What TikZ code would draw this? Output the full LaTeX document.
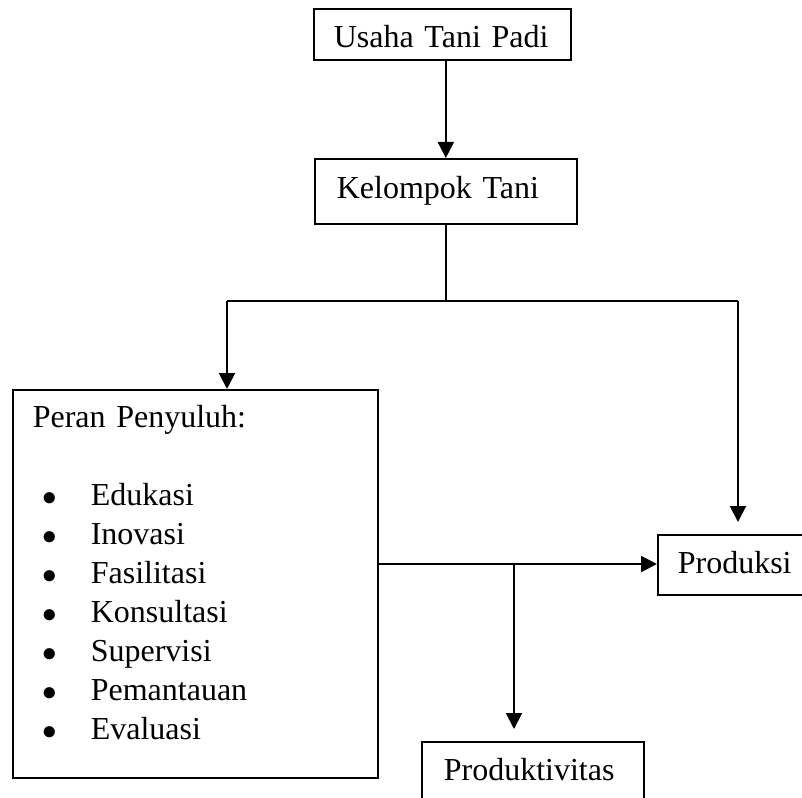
\documentclass[tikz,border=0pt]{standalone}
\usepackage{fontspec}
\setmainfont{Liberation Serif}
\usetikzlibrary{arrows.meta}

\tikzset{
  kotak/.style={draw, line width=1.2pt, anchor=north west, align=left, inner ysep=0pt,
    font=\fontsize{22.76pt}{27.74pt}\selectfont},
  garis/.style={line width=1.4pt},
  panah/.style={garis, -{Triangle[width=0.4cm,length=0.4cm]}}
}
\newcommand{\butir}[1]{\hspace*{0.25cm}\makebox[1.2cm][l]{$\bullet$}#1}

\begin{document}
\begin{tikzpicture}
		\useasboundingbox (0,0) rectangle (20.05,-19.95);
		\clip (0,0) rectangle (20.05,-19.95);

		% Boxes
		\node[kotak, inner xsep=0.5cm, text width=5.425cm, text height=0.975cm, text depth=0.3cm]
			(usaha) at (7.825,-0.2) {\mbox{Usaha Tani Padi}};
		\node[kotak, inner xsep=0.55cm, text width=5.45cm, text height=1.0cm, text depth=0.625cm]
			(kelompok) at (7.85,-3.95) {\mbox{Kelompok Tani}};
		\node[kotak, inner xsep=0.5cm, text width=8.125cm, text height=0.95cm, text depth=8.75cm]
			(peran) at (0.3,-9.725) {Peran Penyuluh:\\[27.74pt]
			\butir{Edukasi}\\
			\butir{Inovasi}\\
			\butir{Fasilitasi}\\
			\butir{Konsultasi}\\
			\butir{Supervisi}\\
			\butir{Pemantauan}\\
			\butir{Evaluasi}};
		\node[kotak, inner xsep=0.5cm, text width=3.0cm, text height=0.975cm, text depth=0.525cm]
			(produksi) at (16.425,-13.35) {\mbox{Produksi}};
		\node[kotak, inner xsep=0.55cm, text width=4.45cm, text height=0.975cm, text depth=0.75cm]
			(produktivitas) at (10.525,-18.525) {\mbox{Produktivitas}};

		% Split points
		\coordinate (kiri) at (5.675,-7.525);
		\coordinate (kanan) at (18.45,-7.525);
		\coordinate (cabang) at (12.85,-14.1);

		% Connectors
		\draw[panah] (usaha.south -| kelompok.north) -- (kelompok.north);
		\draw[garis] (kelompok.south) -- (kelompok.south |- kiri);
		\draw[garis] (kiri) -- (kanan);
		\draw[panah] (kiri) -- (kiri |- peran.north);
		\draw[panah, shorten >=0.3cm] (kanan) -- (kanan |- produksi.north);
		\draw[panah] (peran.east |- cabang) -- (produksi.west |- cabang);
		\draw[panah, shorten >=0.3cm] (cabang) -- (cabang |- produktivitas.north);
	\end{tikzpicture}
\end{document}
